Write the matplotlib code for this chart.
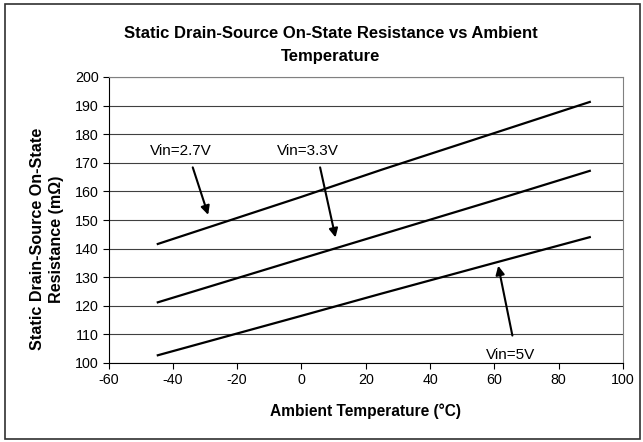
import matplotlib.pyplot as plt
from matplotlib.patches import Rectangle

# Rds(on) vs ambient temperature, one series per input voltage
temp = [-45, 0, 25, 60, 90]
r_27 = [141.5, 158.1, 167.6, 180.4, 191.4]
r_33 = [121.1, 136.5, 145.0, 156.9, 167.3]
r_50 = [102.6, 116.5, 124.3, 135.0, 144.1]

x_ticks = list(range(-60, 101, 20))
y_ticks = list(range(100, 201, 10))

plt.rcParams['font.family'] = ['Liberation Sans', 'DejaVu Sans']
plt.rcParams['axes.unicode_minus'] = False

fig = plt.figure(figsize=(6.43, 4.42), dpi=100)
ax = fig.add_axes([108.5 / 643, 1 - 363 / 442, 514.5 / 643, 286 / 442])

# outer chart border
fig.patches.append(Rectangle((5 / 643, 3 / 442), 635 / 643, 435 / 442,
                             transform=fig.transFigure, fill=False,
                             edgecolor='#303030', lw=1.2))

for r in (r_27, r_33, r_50):
    ax.plot(temp, r, color='black', lw=1.6, solid_capstyle='butt')

ax.set_xlim(-60, 100)
ax.set_ylim(100, 200)
ax.set_xticks(x_ticks)
ax.set_yticks(y_ticks)
ax.tick_params(direction='out', length=4, width=0.8, labelsize=10.3, pad=3)
ax.yaxis.grid(True, color='#404040', lw=0.8)
ax.set_axisbelow(True)
for s in ('top', 'right'):
    ax.spines[s].set_color('#808080')
for s in ('left', 'bottom'):
    ax.spines[s].set_color('black')

fig.text(365.8 / 643, 1 - 411.5 / 442, 'Ambient Temperature (°C)',
         ha='center', va='center', fontsize=11.2, fontweight='bold')
fig.text(47 / 643, 1 - 239 / 442, 'Static Drain-Source On-State\nResistance (mΩ)',
         ha='center', va='center', rotation=90, fontsize=11.6,
         fontweight='bold', linespacing=1.35)
fig.text(331 / 643, 1 - 45 / 442,
         'Static Drain-Source On-State Resistance vs Ambient\nTemperature',
         ha='center', va='center', fontsize=12, fontweight='bold', linespacing=1.6)

arrow = dict(arrowstyle='-|>', color='black', lw=1.5, mutation_scale=13,
             shrinkA=0, shrinkB=0)
ax.annotate('', xy=(-29.0, 151.8), xytext=(-33.8, 168.4), arrowprops=arrow)
ax.annotate('', xy=(10.6, 143.9), xytext=(5.8, 168.4), arrowprops=arrow)
ax.annotate('', xy=(61.2, 134.0), xytext=(65.6, 109.6), arrowprops=arrow)
ax.text(-37.6, 174.2, 'Vin=2.7V', ha='center', va='center', fontsize=11)
ax.text(1.9, 174.2, 'Vin=3.3V', ha='center', va='center', fontsize=11)
ax.text(64.9, 102.9, 'Vin=5V', ha='center', va='center', fontsize=11)

fig.savefig('out.png', dpi=100)
